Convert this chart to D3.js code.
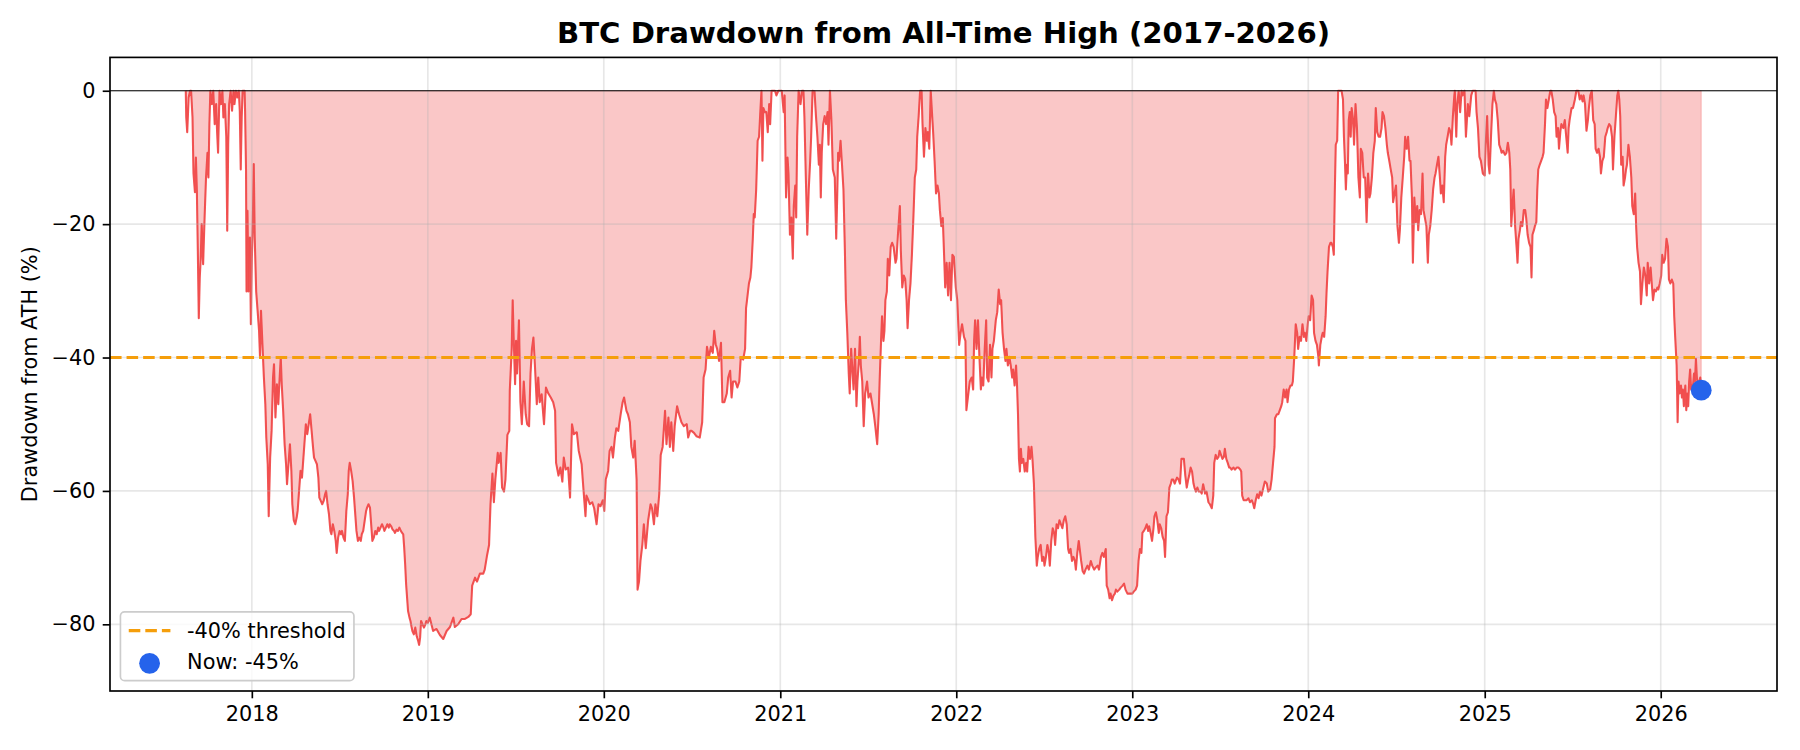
<!DOCTYPE html>
<meta charset="utf-8">
<head>
  <style>
    html, body { margin: 0; padding: 0; background: #fff; }
    svg { display: block; font-family: "DejaVu Sans", sans-serif; }
  </style>
</head>
<script src="https://cdn.jsdelivr.net/npm/d3@7"></script>
<body>
<script>
// drawdown from ATH in % as [day of year, value] per calendar year
var y2017 = [[228,0],[229,-4.0],[231,-6.2],[234,-1],[237,0],[239,0],[242,-4],[244,-12.4],[247,-15.2],[249,-10],[251,-15],[253,-24],[255,-34.1],[257,-28],[259,-25.2],[261,-20],[264,-26],[267,-19.1],[270,-13],[273,-9.3],[275,-13],[277,-5],[279,0],[282,-2],[285,0],[288,-5],[291,-2],[293,-6.2],[295,-9.3],[298,0],[301,-2],[304,0],[306,-4],[309,-2],[312,-6.9],[314,-21],[316,-8],[318,-2],[321,0],[324,-3],[327,0],[329,-2],[332,0],[335,-1],[338,0],[340,-3],[342,-11.8],[344,-4],[346,0],[349,0],[350,0],[351,-3],[353,-12],[354,-30.1],[356,-18],[358,-30.1],[361,-22],[363,-35]];
var y2018 = [[0,-25.2],[2,-20],[4,-11],[6,-22],[9,-30.1],[12,-33],[15,-36],[17,-40],[19,-33],[22,-38],[25,-43],[28,-47],[30,-52],[33,-56],[35,-63.8],[38,-55],[41,-51],[44,-43],[46,-41],[49,-49],[52,-44],[55,-47],[57,-44],[60,-40],[62,-44],[65,-48],[68,-53],[71,-56],[73,-59],[76,-56],[79,-53],[82,-57],[84,-62],[87,-64.4],[90,-65],[93,-64],[95,-63],[98,-60],[101,-57],[104,-58],[107,-55],[109,-53],[112,-50],[115,-51.5],[118,-50],[121,-48.5],[124,-51],[127,-53.5],[129,-55],[132,-55.5],[135,-56],[138,-58],[140,-61],[143,-61.5],[146,-62],[149,-61.5],[152,-60.5],[154,-60],[157,-62],[160,-63.5],[163,-66],[165,-66.5],[168,-65],[171,-66],[174,-67.5],[176,-69.3],[179,-67],[182,-66],[185,-66.5],[187,-66],[190,-67],[193,-67.5],[196,-63],[199,-60.5],[201,-57],[203,-55.8],[206,-57],[209,-58.5],[212,-61],[214,-63],[217,-66],[220,-67.5],[223,-67],[226,-67.5],[228,-66.5],[231,-66],[234,-64.5],[237,-63],[239,-62.5],[242,-62],[245,-62.5],[248,-65.5],[250,-67.5],[253,-67],[256,-66],[259,-66.5],[262,-65.5],[264,-66],[267,-65.5],[270,-65],[273,-65.5],[275,-66],[278,-65.5],[281,-65],[284,-65.5],[286,-65],[289,-65.3],[292,-65.8],[295,-66],[297,-66.3],[300,-65.8],[303,-66],[306,-65.5],[309,-66],[311,-66.2],[314,-66.5],[316,-68.5],[318,-71],[320,-74],[322,-76],[324,-78],[327,-79],[329,-79.5],[331,-80.3],[333,-81],[336,-81.5],[339,-80.5],[342,-81.8],[345,-82.5],[347,-83.1],[349,-82],[351,-79.5],[354,-80],[357,-80.5],[360,-80],[362,-79.5]];
var y2019 = [[0,-79.8],[4,-79],[11,-81],[18,-80.7],[25,-81.6],[32,-82.2],[39,-81],[46,-80.4],[53,-79],[56,-80.4],[63,-80],[70,-79.2],[77,-79.2],[84,-78.9],[89,-78.5],[92,-74.2],[98,-73],[102,-73.6],[108,-72.4],[115,-72.4],[118,-71.8],[123,-69.6],[127,-68.1],[130,-62],[134,-57.4],[137,-61.7],[140,-58.3],[145,-54.3],[147,-55.8],[151,-54.3],[154,-59.5],[158,-60.1],[161,-58.3],[165,-51.6],[169,-51],[170,-45],[174,-38.7],[176,-31.4],[178,-37],[181,-44],[183,-37.5],[185,-42.4],[189,-34.4],[192,-46.7],[195,-50],[199,-43.6],[203,-48.5],[206,-50],[210,-50.3],[213,-42.4],[216,-38.7],[219,-37],[222,-41],[226,-47],[229,-43],[232,-46.7],[236,-45.5],[241,-50],[245,-44.5],[250,-45.4],[255,-46],[260,-46.7],[264,-48],[266,-55.8],[271,-57.7],[275,-56.5],[279,-58.6],[282,-55],[286,-56.8],[291,-56.5],[295,-61],[299,-50],[303,-51.5],[309,-51.2],[313,-54],[319,-56],[322,-59],[327,-63.8],[329,-60.7],[333,-61.4],[336,-62],[341,-61.7],[345,-62.6],[350,-65],[354,-62],[358,-62.3],[363,-61.4]];
var y2020 = [[1,-63],[4,-58.3],[9,-57],[12,-54],[16,-53.4],[19,-55],[23,-52],[26,-50.6],[30,-51],[35,-48.5],[39,-46.7],[42,-46],[47,-48],[50,-48.5],[54,-49.7],[57,-53.4],[61,-55],[64,-52.5],[68,-58.3],[70,-74.8],[73,-73.6],[76,-70.5],[80,-68],[83,-65],[87,-68.6],[92,-64.4],[97,-62],[100,-62.6],[104,-65],[107,-62],[111,-63.8],[115,-60.4],[118,-54.6],[122,-53.4],[127,-48],[130,-53],[134,-49],[137,-53.4],[140,-49.7],[144,-54],[147,-50.3],[152,-47.3],[156,-48.5],[161,-49.7],[166,-50.3],[172,-50],[175,-52],[179,-51],[182,-51],[187,-51.3],[192,-51.8],[199,-52],[204,-49.7],[207,-43],[211,-41.8],[214,-38.4],[218,-40],[222,-38.4],[226,-39.3],[229,-36],[232,-38],[235,-38.7],[239,-40.5],[243,-37.8],[246,-46.7],[250,-46.7],[255,-45.4],[258,-43],[262,-42],[265,-46],[268,-43.6],[273,-43.6],[277,-44.5],[281,-43.6],[284,-40],[289,-40.3],[293,-38.7],[295,-32.6],[297,-31.4],[301,-28.9],[304,-28],[306,-26.5],[309,-22.2],[311,-18.5],[313,-19],[316,-14.8],[319,-7.5],[322,-6.9],[325,-2.6],[327,0],[329,-10.5],[331,-2.6],[334,-3.2],[337,-3.2],[340,-6.2],[343,-2],[345,-5],[348,0],[351,0],[355,0],[358,-0.7],[362,0]];
var y2021 = [[0,0],[3,0],[7,-3.2],[9,-0.7],[12,-16],[15,-10],[17,-12.4],[20,-21.6],[23,-19],[26,-25.2],[28,-17.3],[31,-14.2],[33,-19],[35,-6.9],[38,0],[42,-2],[45,0],[48,0],[50,-3.8],[53,-13],[56,-21.6],[59,-14.8],[62,-10.5],[64,-6.9],[67,0],[71,-0.1],[74,-3.8],[77,-6.9],[80,-11.1],[82,-8.1],[84,-16],[86,-9.3],[89,-5],[92,-3.8],[95,-5],[98,-3.2],[100,-8.1],[103,0],[106,-4.4],[109,-11.8],[113,-13],[116,-22.2],[118,-16],[120,-9.3],[122,-10.5],[125,-7.5],[128,-11.1],[131,-14.8],[134,-24],[136,-31.4],[139,-36.3],[142,-42.4],[144,-45.4],[147,-38.7],[149,-41.2],[152,-44.8],[155,-38.7],[158,-47.3],[160,-43.6],[163,-40.5],[165,-36.9],[167,-41.2],[170,-43.6],[173,-50.3],[176,-45.4],[180,-43.6],[183,-46],[187,-45.4],[190,-46.7],[194,-48.5],[197,-50.3],[201,-53],[204,-48.5],[206,-43.6],[209,-37.5],[211,-33.8],[214,-37.5],[216,-36],[218,-31.4],[221,-30.1],[223,-25.2],[226,-27.7],[229,-23.4],[232,-22.8],[235,-23.4],[239,-25.8],[241,-25.2],[244,-21.6],[248,-17.3],[250,-24],[253,-29.5],[256,-27.7],[259,-28.2],[262,-31.4],[264,-35.6],[267,-31.4],[270,-28.9],[273,-24.6],[276,-19.1],[279,-13],[282,-11.8],[284,-6.9],[287,-3.8],[290,0],[293,0],[295,-5],[298,-9.9],[301,-5.6],[304,-7.5],[306,-6.2],[309,-8.7],[312,0],[315,-3.8],[317,-6.2],[320,-10.5],[323,-15.4],[326,-14.2],[329,-15.4],[331,-17.9],[334,-20.3],[337,-19.1],[340,-25.2],[342,-29.5],[345,-25.8],[348,-30.7],[351,-25.8],[354,-31.4],[357,-24.6],[360,-24.9],[364,-29.5]];
var y2022 = [[2,-31.4],[6,-38.1],[9,-36.3],[12,-35],[16,-36.9],[19,-37.5],[21,-47.9],[25,-45.4],[28,-43.6],[32,-43],[35,-44.8],[37,-37.5],[39,-34.4],[42,-38.7],[45,-34.4],[48,-39.9],[51,-44.8],[53,-43],[56,-44.2],[59,-38.7],[62,-34.4],[64,-43],[67,-43.6],[70,-38.1],[73,-43],[75,-38.7],[78,-37.5],[82,-34.4],[85,-33.2],[88,-29.8],[91,-32],[93,-31.4],[96,-36.3],[99,-38.7],[102,-40.5],[104,-38.7],[107,-41.2],[110,-39.9],[113,-41.2],[116,-43],[118,-41.8],[121,-44.2],[124,-41.2],[126,-44.2],[128,-48.5],[130,-55.2],[132,-57.1],[134,-53.7],[136,-55.8],[139,-55.2],[142,-57.1],[145,-55.8],[147,-57.1],[150,-53.4],[153,-55.2],[156,-53.4],[158,-55.2],[161,-58.9],[164,-66.9],[167,-71.2],[169,-69.9],[172,-68.7],[175,-68.1],[178,-70.5],[181,-69.9],[183,-71.2],[186,-69.9],[189,-68.1],[192,-69.3],[194,-71.2],[197,-67.5],[200,-65.6],[203,-66.3],[205,-68.1],[208,-65],[211,-65.6],[214,-64.4],[217,-65],[220,-65.6],[223,-64.4],[226,-63.8],[229,-65],[232,-68.7],[234,-69.3],[237,-68.7],[240,-70.5],[243,-69.9],[246,-70.5],[248,-71.8],[251,-69.3],[254,-67.5],[257,-69.3],[259,-70.5],[262,-72],[265,-72.4],[268,-71.8],[272,-71.2],[275,-71.8],[279,-70.5],[282,-71.2],[286,-71.8],[289,-71.5],[293,-71.2],[296,-71.8],[300,-69.9],[303,-69.3],[306,-69.9],[310,-68.7],[312,-74.2],[315,-74.8],[318,-76.1],[320,-75.4],[323,-76.4],[326,-75.7],[329,-75.4],[331,-74.8],[334,-75.1],[338,-74.8],[341,-74.5],[345,-74.2],[348,-73.9],[351,-74.8],[355,-75.4],[358,-75.4],[362,-75.4]];
var y2023 = [[0,-75.4],[3,-75.1],[7,-74.8],[10,-74.2],[13,-70.5],[16,-68.7],[19,-69.3],[21,-66.3],[24,-66],[27,-65.6],[30,-65],[33,-66],[35,-65.3],[38,-66.3],[41,-67.5],[44,-65.6],[46,-63.8],[49,-63.2],[52,-64.4],[55,-66.3],[57,-65],[60,-65.6],[63,-66.9],[66,-67.5],[68,-69.9],[71,-63.8],[74,-63.2],[77,-59.5],[80,-58.9],[82,-58.3],[85,-58.3],[88,-58.9],[91,-58.3],[93,-58],[96,-58.3],[99,-58.9],[102,-55.2],[104,-55.2],[107,-55.2],[110,-57.7],[113,-59.5],[116,-58.3],[118,-57.7],[121,-56.5],[124,-57.1],[127,-58.9],[129,-59.5],[132,-60.1],[135,-59.5],[138,-60.1],[142,-60.1],[144,-60.4],[147,-59],[151,-60.4],[154,-60.1],[158,-61.7],[161,-62],[165,-62.6],[168,-60.7],[170,-55.8],[173,-54.6],[176,-55.2],[179,-54.9],[181,-54],[184,-54.6],[187,-55.2],[190,-54.9],[192,-53.7],[195,-55.2],[198,-55.8],[201,-56.5],[203,-56.5],[206,-56.8],[210,-56.5],[213,-56.8],[217,-56.5],[220,-56.5],[224,-56.8],[226,-57.1],[228,-60.7],[231,-61.4],[234,-61.4],[237,-61.4],[241,-61.1],[244,-61.7],[248,-61.4],[251,-62],[253,-62.6],[256,-61.4],[259,-60.5],[262,-61.1],[265,-60.1],[268,-60.7],[272,-59.5],[275,-58.6],[279,-58.9],[282,-60.1],[286,-59.8],[289,-58.3],[292,-55.8],[295,-53.4],[296,-49.1],[300,-48.5],[303,-48.5],[306,-47.9],[309,-47.3],[311,-46.7],[314,-44.8],[317,-46],[320,-44.8],[322,-46.7],[325,-44.8],[328,-44.2],[331,-44.2],[333,-43.6],[336,-39.9],[339,-35],[342,-36.3],[344,-38.7],[347,-36.9],[350,-37.5],[353,-35],[356,-36.9],[358,-36.3],[361,-37.5],[364,-35]];
var y2024 = [[1,-33.8],[4,-34.4],[7,-30.7],[10,-31.4],[12,-36.3],[15,-37.5],[18,-38.1],[21,-39.9],[22,-41.2],[25,-38.1],[28,-36.9],[30,-36.3],[33,-36.9],[36,-33.8],[38,-30.1],[40,-27.1],[43,-23.4],[46,-22.8],[48,-22.8],[51,-23.4],[53,-24.6],[55,-15.4],[57,-8.1],[60,-7.5],[62,0],[65,0],[67,0],[69,0],[72,-1.3],[74,-6.9],[76,-10.5],[78,-14.8],[80,-11.1],[82,-12.4],[84,-4.4],[86,-3.2],[88,-6.9],[90,-2.6],[93,-4.4],[95,-8.1],[98,-2],[101,-5.6],[104,-13],[107,-16],[109,-8.7],[112,-9.3],[115,-13],[118,-13],[121,-19.7],[124,-12.4],[127,-16],[129,-15.4],[132,-13],[135,-9.3],[138,-7.5],[140,-2.6],[143,-6.2],[146,-6.9],[149,-6.9],[152,-5.6],[154,-3.2],[157,-3.8],[160,-5.6],[163,-8.1],[165,-9.3],[168,-10.5],[171,-11.8],[174,-13],[176,-16.7],[179,-15.4],[182,-14.2],[185,-20.3],[188,-22.8],[190,-20.9],[193,-16],[196,-13],[199,-9.9],[201,-6.9],[204,-8.7],[207,-6.9],[210,-10.5],[212,-10.5],[215,-16],[217,-25.8],[220,-16],[223,-19.7],[226,-17.3],[228,-20.9],[231,-17.9],[234,-18.5],[237,-12.4],[239,-17.9],[242,-19.1],[245,-20.3],[248,-25.8],[250,-21.6],[253,-20.3],[256,-17.9],[259,-14.8],[262,-13],[264,-12.4],[267,-11.1],[270,-9.9],[273,-13],[275,-15.4],[278,-14.2],[281,-16.7],[284,-9.9],[286,-8.1],[289,-6.9],[292,-5.6],[295,-6.2],[297,-8.1],[300,-3.8],[303,-0.7],[304,0],[306,-5],[307,-6.9],[309,-2],[312,-0.1],[315,-3.2],[318,0],[320,-0.7],[324,0],[327,-6.9],[331,-2],[334,-3.8],[338,-0.7],[341,0],[345,0],[347,0],[349,-3.2],[352,-5.6],[355,-9.9],[358,-10.5],[362,-12.4]];
var y2025 = [[0,-12.7],[2,-8.1],[5,-3.8],[8,-11.1],[10,-12.4],[13,-6.9],[16,-2],[19,0],[21,-1.3],[24,-2],[27,-4.4],[30,-8.1],[33,-8.7],[35,-9.3],[38,-9],[42,-9.6],[45,-9.3],[48,-7.8],[51,-9.3],[53,-11.8],[55,-20.3],[58,-16.7],[60,-14.8],[63,-20.3],[66,-23.4],[68,-25.8],[70,-22.2],[73,-20.9],[75,-19.7],[78,-20.3],[81,-17.9],[84,-17.9],[86,-19.1],[89,-21.6],[92,-22.8],[95,-23.4],[97,-28],[99,-21.6],[102,-20.9],[104,-20.3],[107,-19.7],[109,-14.8],[111,-11.8],[114,-11.1],[117,-10.5],[120,-9.9],[122,-9.3],[125,-5],[127,-1.3],[130,-2.6],[133,-1.3],[136,0],[138,0],[141,-1.3],[144,-3.2],[147,-3.8],[149,-6.9],[152,-5.6],[154,-8.7],[157,-6],[159,-5],[163,-5.6],[166,-4.4],[169,-6.9],[172,-9.3],[174,-5.6],[176,-4.4],[180,-2.6],[183,-2.6],[187,-1.3],[190,0],[194,0],[197,-1.3],[200,-0.7],[203,-1.6],[205,-0.7],[208,-2],[211,-6],[214,-4.4],[216,-2.6],[219,-0.7],[222,0],[225,-4.4],[228,-5],[230,-8.7],[233,-9.3],[236,-8.7],[239,-9.9],[241,-12.4],[244,-10.5],[247,-9.9],[250,-6.9],[253,-6.2],[255,-5.6],[258,-5],[261,-5.3],[264,-6.9],[266,-11.8],[269,-6.9],[272,-3.8],[275,-0.7],[277,0],[279,-1.3],[281,-3.8],[283,-11.1],[286,-9.9],[288,-14.2],[291,-13],[293,-11.8],[295,-11.1],[298,-8.1],[301,-9.9],[304,-13],[306,-17.3],[309,-18.5],[312,-15.4],[314,-20.3],[316,-23.4],[319,-25.8],[322,-27.1],[324,-32],[327,-28.9],[330,-26.5],[333,-27.7],[336,-30.7],[338,-25.8],[341,-28.9],[344,-26.5],[347,-29.5],[349,-31.4],[352,-29.8],[355,-30.1],[358,-29.5],[360,-29.8],[363,-28.9]];
var y2026 = [[1,-27.7],[3,-24.6],[6,-25.8],[9,-25.2],[12,-22.2],[15,-23.4],[17,-28.3],[20,-28.9],[23,-28.3],[26,-28.9],[28,-33.8],[30,-36.9],[33,-41.2],[34,-45],[35,-49.7],[37,-43.6],[39,-45.4],[42,-44.2],[44,-46],[46,-44.8],[48,-47.3],[51,-44.2],[53,-47.9],[55,-45.4],[57,-47.3],[59,-43.6],[61,-41.8],[63,-44.8],[65,-44.2],[67,-44.2],[69,-42.4],[71,-43.6],[73,-40.2],[75,-43],[77,-44.2],[80,-43.6],[82,-43],[84,-44.9]];

var yearly = {2017: y2017, 2018: y2018, 2019: y2019, 2020: y2020, 2021: y2021,
              2022: y2022, 2023: y2023, 2024: y2024, 2025: y2025, 2026: y2026};
var yTicks = [0, -20, -40, -60, -80];
var xTickYears = [2018, 2019, 2020, 2021, 2022, 2023, 2024, 2025, 2026];
var threshold = -40;
var titleText = "BTC Drawdown from All-Time High (2017-2026)";
var yLabel = "Drawdown from ATH (%)";
var legendLabels = ["-40% threshold", "Now: -45%"];

var W = 1800, H = 750;
var axL = 110, axR = 1777, axT = 57.4, axB = 691;
var pt = 150 / 72; // matplotlib points -> px at 150 dpi

var data = [];
Object.keys(yearly).forEach(function(yr) {
  yearly[yr].forEach(function(p) {
    data.push({date: new Date(Date.UTC(+yr, 0, 1) + p[0] * 864e5), dd: p[1]});
  });
});
var last = data[data.length - 1];

var t0 = data[0].date.getTime(), t1 = last.date.getTime();
var pad = (t1 - t0) * 0.05;
var x = d3.scaleUtc().domain([new Date(t0 - pad), new Date(t1 + pad)]).range([axL, axR]);
var y = d3.scaleLinear().domain([-90, 5]).range([axB, axT]);

var svg = d3.select("body").append("svg").attr("width", W).attr("height", H);
svg.append("rect").attr("width", W).attr("height", H).attr("fill", "#fff");

svg.append("defs").append("clipPath").attr("id", "clip")
  .append("rect").attr("x", axL).attr("y", axT).attr("width", axR - axL).attr("height", axB - axT);
var plot = svg.append("g").attr("clip-path", "url(#clip)");

// fill between 0 and drawdown
var area = d3.area().x(function(d){ return x(d.date); }).y0(y(0)).y1(function(d){ return y(d.dd); });
plot.append("path").datum(data).attr("d", area)
  .attr("fill", "#ef4444").attr("fill-opacity", 0.3)
  .attr("stroke", "#ef4444").attr("stroke-opacity", 0.3).attr("stroke-width", 1);

// grid
var grid = svg.append("g");
xTickYears.forEach(function(yr) {
  var gx = x(new Date(Date.UTC(yr, 0, 1)));
  grid.append("line").attr("x1", gx).attr("x2", gx).attr("y1", axT).attr("y2", axB);
});
yTicks.forEach(function(v) {
  grid.append("line").attr("x1", axL).attr("x2", axR).attr("y1", y(v)).attr("y2", y(v));
});
grid.selectAll("line").attr("stroke", "#b0b0b0").attr("stroke-opacity", 0.3).attr("stroke-width", 0.8 * pt);

// drawdown line
var line = d3.line().x(function(d){ return x(d.date); }).y(function(d){ return y(d.dd); });
plot.append("path").datum(data).attr("d", line)
  .attr("fill", "none").attr("stroke", "#ef4444").attr("stroke-opacity", 0.9)
  .attr("stroke-width", 1.0 * pt).attr("stroke-linejoin", "round");

// zero line and threshold
svg.append("line").attr("x1", axL).attr("x2", axR).attr("y1", y(0)).attr("y2", y(0))
  .attr("stroke", "#000").attr("stroke-width", 0.5 * pt);
svg.append("line").attr("x1", axL).attr("x2", axR).attr("y1", y(threshold)).attr("y2", y(threshold))
  .attr("stroke", "#f59e0b").attr("stroke-width", 1.5 * pt)
  .attr("stroke-dasharray", (3.7 * 1.5 * pt) + "," + (1.6 * 1.5 * pt));

// current point
svg.append("circle").attr("cx", x(last.date)).attr("cy", y(last.dd)).attr("r", 5 * pt)
  .attr("fill", "#2563eb");

// axes
var fs = 10 * pt;
var xAxis = d3.axisBottom(x)
  .tickValues(xTickYears.map(function(yr){ return new Date(Date.UTC(yr, 0, 1)); }))
  .tickFormat(d3.utcFormat("%Y")).tickSize(3.5 * pt).tickPadding(3.5 * pt);
var yAxis = d3.axisLeft(y).tickValues(yTicks).tickSize(3.5 * pt).tickPadding(3.5 * pt);
var gx = svg.append("g").attr("transform", "translate(0," + axB + ")").call(xAxis);
var gy = svg.append("g").attr("transform", "translate(" + axL + ",0)").call(yAxis);
[gx, gy].forEach(function(g) {
  g.select(".domain").remove();
  g.selectAll(".tick line").attr("stroke", "#000").attr("stroke-width", 0.8 * pt);
  g.selectAll(".tick text").attr("fill", "#000").style("font-size", fs + "px")
    .style("font-family", "DejaVu Sans");
});
gx.selectAll(".tick text").attr("dy", "0.75em");

// spines
svg.append("rect").attr("x", axL).attr("y", axT).attr("width", axR - axL).attr("height", axB - axT)
  .attr("fill", "none").attr("stroke", "#000").attr("stroke-width", 0.8 * pt);

// title and label
svg.append("text").attr("x", (axL + axR) / 2).attr("y", axT - 6 * pt - 2)
  .attr("text-anchor", "middle").style("font-size", (14 * pt) + "px").style("font-weight", "bold")
  .text(titleText);
svg.append("text").attr("transform", "translate(37," + ((axT + axB) / 2) + ") rotate(-90)")
  .attr("text-anchor", "middle").style("font-size", fs + "px").text(yLabel);

// legend
var lg = svg.append("g");
var bp = 0.4 * fs, hl = 2 * fs, htp = 0.8 * fs, ls = 0.5 * fs, rowH = fs * 1.0;
var frame = lg.append("rect");
var tx = [];
legendLabels.forEach(function(lab, i) {
  tx.push(lg.append("text").style("font-size", fs + "px").text(lab));
});
var tw = d3.max(tx, function(t){ return t.node().getComputedTextLength(); });
var lw = bp * 2 + hl + htp + tw, lh = bp * 2 + rowH * 2 + ls;
var lx = axL + 0.5 * fs, ly = axB - 0.5 * fs - lh;
frame.attr("x", lx).attr("y", ly).attr("width", lw).attr("height", lh).attr("rx", 0.2 * fs)
  .attr("fill", "#fff").attr("fill-opacity", 0.8).attr("stroke", "#cccccc").attr("stroke-width", 0.8 * pt);
var rowY = [ly + bp + rowH / 2, ly + bp + rowH * 1.5 + ls];
tx.forEach(function(t, i) {
  t.attr("x", lx + bp + hl + htp).attr("y", rowY[i]).attr("dy", "0.35em");
});
lg.append("line").attr("x1", lx + bp).attr("x2", lx + bp + hl).attr("y1", rowY[0]).attr("y2", rowY[0])
  .attr("stroke", "#f59e0b").attr("stroke-width", 1.5 * pt)
  .attr("stroke-dasharray", (3.7 * 1.5 * pt) + "," + (1.6 * 1.5 * pt));
lg.append("circle").attr("cx", lx + bp + hl / 2).attr("cy", rowY[1] + 1.5).attr("r", 5 * pt)
  .attr("fill", "#2563eb");
</script>
</body>
